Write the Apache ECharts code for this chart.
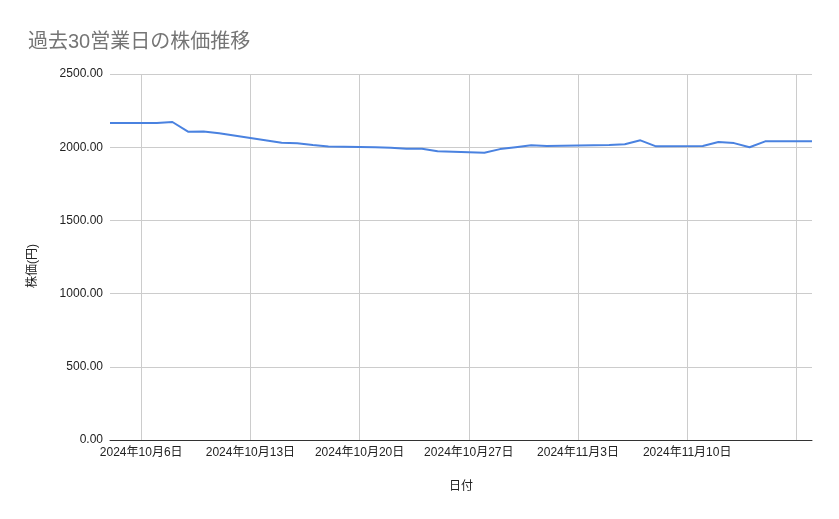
<!DOCTYPE html>
<html>
<head>
<meta charset="utf-8">
<script src="https://cdn.jsdelivr.net/npm/echarts@6/dist/echarts.min.js"></script>
<style>html,body{margin:0;padding:0;background:#fff;}#c{width:839px;height:519px;}</style>
</head>
<body>
<div id="c"></div>
<script>
const dates = ['2024-10-04','2024-10-07','2024-10-08','2024-10-09','2024-10-10','2024-10-11',
  '2024-10-15','2024-10-16','2024-10-17','2024-10-18',
  '2024-10-21','2024-10-22','2024-10-23','2024-10-24','2024-10-25',
  '2024-10-28','2024-10-29','2024-10-30','2024-10-31','2024-11-01',
  '2024-11-05','2024-11-06','2024-11-07','2024-11-08',
  '2024-11-11','2024-11-12','2024-11-13','2024-11-14','2024-11-15','2024-11-18'];
const prices = [2165,2165,2172,2106,2108,2095,
  2031,2027,2015,2004,
  2000,1996,1989,1990,1972,
  1962,1987,2000,2013,2008,
  2015,2020,2047,2006,
  2008,2036,2028,2000,2040,2040];
const gridDates = ['2024-10-06','2024-10-13','2024-10-20','2024-10-27','2024-11-03','2024-11-10','2024-11-17'];
const labelDates = ['2024-10-06','2024-10-13','2024-10-20','2024-10-27','2024-11-03','2024-11-10'];
const yTicks = [0,500,1000,1500,2000,2500];

// day number (days since 1970-01-01 UTC)
function dn(s){ const p = s.split('-').map(Number); return Math.round(Date.UTC(p[0], p[1]-1, p[2]) / 86400000); }
function dlabel(n){ const d = new Date(n * 86400000); return d.getUTCFullYear() + '年' + (d.getUTCMonth()+1) + '月' + d.getUTCDate() + '日'; }
const font = '"Liberation Sans", Arial, "Noto Sans CJK JP", sans-serif';
const chart = echarts.init(document.getElementById('c'));
chart.setOption({
  backgroundColor: '#ffffff',
  animation: false,
  title: {
    text: '過去30営業日の株価推移',
    left: 23, top: 27,
    textStyle: { color: '#757575', fontSize: 20, fontWeight: 'normal', fontFamily: font }
  },
  grid: { left: 110, right: 27, top: 74, bottom: 79, outerBoundsMode: 'none', containLabel: false },
  xAxis: {
    type: 'value',
    min: dn(dates[0]),
    max: dn(dates[dates.length-1]),
    name: '日付',
    nameLocation: 'middle',
    nameGap: 41,
    nameTextStyle: { color: '#222', fontSize: 12, fontFamily: font },
    axisLine: { onZero: false, lineStyle: { color: '#333', width: 1 } },
    axisTick: { show: false, customValues: gridDates.map(dn) },
    axisLabel: {
      customValues: labelDates.map(dn),
      color: '#222', fontSize: 12, fontFamily: font, margin: 7,
      formatter: function (v) { return dlabel(v); }
    },
    splitLine: { show: true, lineStyle: { color: '#cccccc', width: 1 } }
  },
  yAxis: {
    type: 'value',
    min: yTicks[0], max: yTicks[yTicks.length-1], interval: 500,
    name: '株価(円)',
    nameLocation: 'middle',
    nameGap: 71,
    nameTextStyle: { color: '#222', fontSize: 12, fontFamily: font, padding: [0, 18, 0, 0] },
    axisLine: { show: false },
    axisTick: { show: false },
    axisLabel: { color: '#222', fontSize: 12, fontFamily: font, margin: 7, formatter: v => v.toFixed(2) },
    splitLine: { lineStyle: { color: '#cccccc', width: 1 } }
  },
  series: [{
    type: 'line',
    data: dates.map((d, i) => [dn(d), prices[i]]),
    showSymbol: false,
    symbol: 'none',
    lineStyle: { color: '#4a82e0', width: 2 },
    itemStyle: { color: '#4a82e0' }
  }]
});
</script>
</body>
</html>
